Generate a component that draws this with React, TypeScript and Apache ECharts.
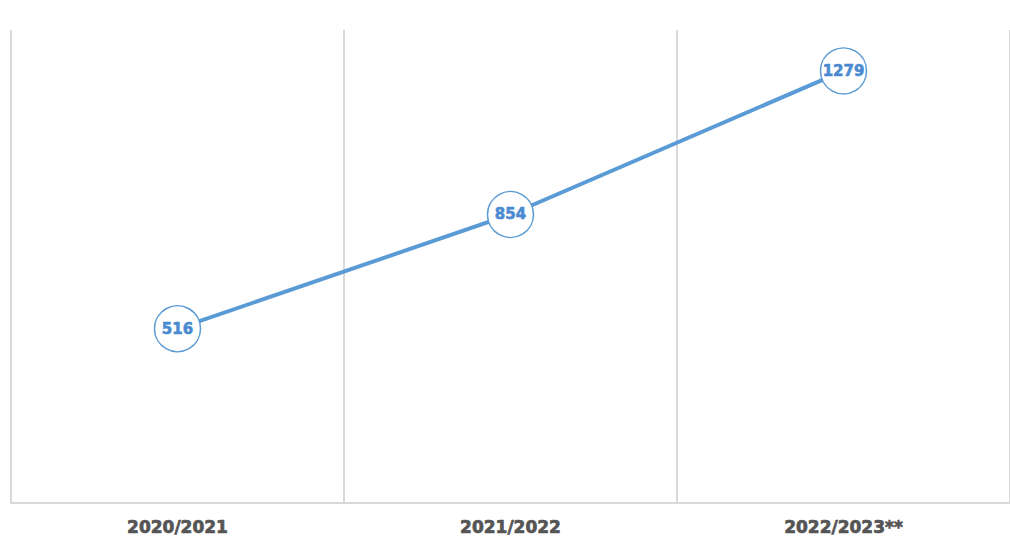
import React, { useEffect, useRef } from "react";
import * as echarts from "echarts";

const seasons = ["2020/2021", "2021/2022", "2022/2023**"];
const totals = [516, 854, 1279];
const yMin = 0;
const yMax = 1400;

const lineBlue = "#5b9bd5";
const labelBlue = "#4a8ad0";
const gridGrey = "#d9d9d9";
const textGrey = "#555555";

export default function App() {
  const ref = useRef<HTMLDivElement>(null);

  useEffect(() => {
    if (!ref.current) return;
    const chart = echarts.init(ref.current, undefined, { renderer: "svg" });
    chart.setOption({
      animation: false,
      backgroundColor: "#ffffff",
      grid: { left: 11, right: 0, top: 30, bottom: 42, containLabel: false },
      xAxis: {
        type: "category",
        data: seasons,
        boundaryGap: true,
        axisLine: { show: true, lineStyle: { color: gridGrey, width: 2 } },
        axisTick: { show: false },
        splitLine: { show: true, lineStyle: { color: gridGrey, width: 2 } },
        axisLabel: {
          margin: 15,
          color: textGrey,
          fontFamily: "DejaVu Sans",
          fontWeight: "bold",
          fontSize: 17,
          textBorderColor: textGrey,
          textBorderWidth: 0.7,
        },
      },
      yAxis: {
        type: "value",
        min: yMin,
        max: yMax,
        show: false,
        splitLine: { show: false },
      },
      series: [
        {
          type: "line",
          data: totals,
          symbol: "circle",
          symbolSize: 46,
          showAllSymbol: true,
          lineStyle: { color: lineBlue, width: 4 },
          itemStyle: { color: "#ffffff", borderColor: lineBlue, borderWidth: 1.5 },
          label: {
            show: true,
            position: "inside",
            color: labelBlue,
            fontFamily: "DejaVu Sans",
            fontWeight: "bold",
            fontSize: 15,
            textBorderColor: labelBlue,
            textBorderWidth: 0.6,
          },
          emphasis: { disabled: true },
        },
      ],
    });
    return () => chart.dispose();
  }, []);

  return (
    <div
      ref={ref}
      style={{ position: "fixed", left: 0, top: 0, width: 1010, height: 545, background: "#fff" }}
    />
  );
}
